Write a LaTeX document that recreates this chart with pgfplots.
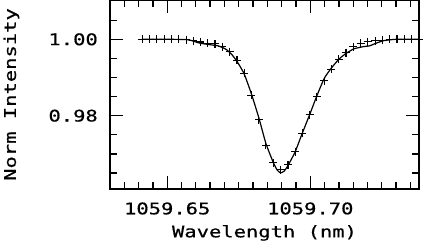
\documentclass[border=0pt]{standalone}
\usepackage{fontspec}
\usepackage{pgfplots}
\pgfplotsset{compat=1.18}
\newfontfamily\idl{DejaVu Sans Mono}[FakeStretch=1.28,FakeBold=0.6]
\newcommand\idlfont{\idl\fontsize{16}{18}\selectfont}

% x values are wavelength - 1059 nm (keeps float precision), labels carry the full value
\begin{document}
\begin{tikzpicture}
\begin{axis}[
  at={(0,0)}, anchor=south west,
  scale only axis, width=309pt, height=189pt,
  xmin=0.630, xmax=0.738,
  ymin=0.9608, ymax=1.0103,
  xtick={0.65,0.70}, xticklabels={1059.65,1059.70},
  minor xtick={0.635,0.640,0.645,0.655,0.660,0.665,0.670,0.675,0.680,0.685,0.690,0.695,0.705,0.710,0.715,0.720,0.725,0.730,0.735},
  ytick={0.98,1.00}, yticklabels={0.98,1.00},
  minor ytick={0.965,0.970,0.975,0.985,0.990,0.995,1.005},
  tick align=inside,
  major tick length=12.7pt, minor tick length=7pt,
  every tick/.style={black, line width=1.3pt},
  axis line style={line width=1.2pt},
  tick label style={font=\idlfont},
  label style={font=\idlfont},
  xticklabel style={anchor=base, yshift=-25.3pt},
  yticklabel style={anchor=east, inner sep=0pt, xshift=-12pt},
  xlabel={Wavelength (nm)},
  ylabel={Norm Intensity},
  xlabel style={at={(axis description cs:0.5,-0.2556)}, anchor=base},
  ylabel style={at={(axis description cs:-0.3188,0.5)}, anchor=center},
]
% model line
\addplot[black, line width=1.2pt, smooth, tension=0.3] coordinates {
(0.6413,1.0000) (0.6509,1.0000) (0.6565,0.99995) (0.6579,0.9998)
(0.6614,0.9990) (0.6649,0.9986) (0.6677,0.9983) (0.6695,0.9978)
(0.6709,0.9972) (0.6726,0.9960) (0.6744,0.9942) (0.6768,0.9911)
(0.6793,0.9860) (0.6820,0.9795) (0.6845,0.9727) (0.6871,0.9677)
(0.6884,0.9658) (0.6896,0.9650) (0.6909,0.9655) (0.6921,0.9668)
(0.6947,0.9705) (0.6972,0.9754) (0.6998,0.9803) (0.7023,0.9852)
(0.7049,0.9898) (0.7074,0.9925) (0.7100,0.9948) (0.7123,0.9962)
(0.7152,0.9975) (0.7187,0.9981) (0.7205,0.99825) (0.7218,0.9986)
(0.7234,0.9991) (0.7257,0.99965) (0.7298,1.0000) (0.7379,1.0000)
};
% observed points
\addplot[only marks, mark=+, mark size=4pt, mark options={line width=1.1pt}] coordinates {
(0.6413,1.0000) (0.6438,1.0000) (0.6464,1.0000) (0.6489,1.0000)
(0.6515,1.0000) (0.6540,1.0000) (0.6566,0.9999) (0.6591,0.9996)
(0.6616,0.9993) (0.6642,0.9990) (0.6667,0.9988) (0.6693,0.9981)
(0.6718,0.9968) (0.6744,0.9945) (0.6769,0.9911) (0.6794,0.9854)
(0.6820,0.9789) (0.6845,0.9723) (0.6871,0.9677) (0.6896,0.9658)
(0.6922,0.9671) (0.6947,0.9706) (0.6972,0.9754) (0.6998,0.9802)
(0.7023,0.9850) (0.7049,0.9892) (0.7074,0.9921) (0.7100,0.9948)
(0.7125,0.9965) (0.7150,0.9981) (0.7176,0.9990) (0.7201,0.9994)
(0.7227,0.9996) (0.7252,0.9998) (0.7278,1.0000) (0.7303,1.0000)
(0.7328,1.0000) (0.7354,1.0000) (0.7379,1.0000)
};
\end{axis}
\pgfresetboundingbox
\path[use as bounding box] (-110pt,-56pt) rectangle (315pt,189pt);
\end{tikzpicture}
\end{document}
